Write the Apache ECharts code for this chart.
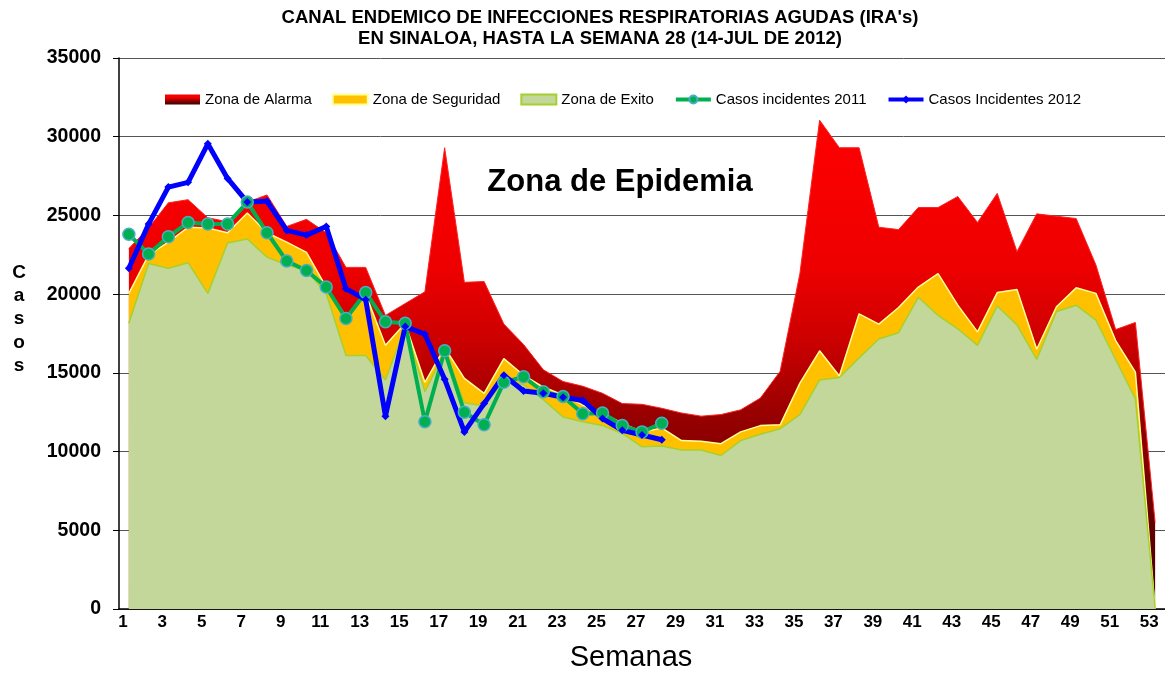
<!DOCTYPE html>
<html lang="es">
<head>
<meta charset="UTF-8">
<title>Canal endemico IRA's Sinaloa 2012</title>
<script src="https://cdn.jsdelivr.net/npm/echarts@6/dist/echarts.min.js"></script>
<style>
    html, body { margin: 0; padding: 0; background: #fff; }
    #main { width: 1165px; height: 673px; }
</style>
</head>
<body>
<div id="main"></div>
<script type="text/javascript">
    // semanas epidemiologicas (categorias del eje x)
    var semanas = ['1','2','3','4','5','6','7','8','9','10','11','12','13','14','15','16','17','18','19','20',
        '21','22','23','24','25','26','27','28','29','30','31','32','33','34','35','36','37','38','39','40',
        '41','42','43','44','45','46','47','48','49','50','51','52','53'];

    // limite superior de cada zona del canal endemico
    var zonaAlarma = [22900, 24200, 25800, 26000, 24850, 24600, 25850, 26300, 24300, 24750,
        23900, 21700, 21700, 18650, 19400, 20150, 29300, 20750, 20800, 18100,
        16800, 15200, 14450, 14150, 13700, 13050, 13000, 12750, 12450, 12250,
        12350, 12650, 13400, 15100, 21300, 31050, 29300, 29300, 24250, 24100,
        25500, 25500, 26200, 24550, 26400, 22700, 25100, 24950, 24800, 21850,
        17750, 18200, 5500];
    var zonaSeguridad = [20050, 22500, 23300, 24250, 24200, 23900, 25150, 23900, 23300, 22650,
        20450, 18600, 20000, 16750, 18150, 14400, 16600, 14650, 13700, 15900,
        14850, 14100, 13600, 12950, 12450, 11800, 11250, 11500, 10700, 10650,
        10500, 11250, 11650, 11700, 14350, 16400, 14800, 18750, 18100, 19150,
        20450, 21300, 19300, 17600, 20100, 20300, 16500, 19200, 20400, 20050,
        17050, 15050, 0];
    var zonaExito = [18150, 21950, 21650, 22000, 20050, 23250, 23500, 22350, 21850, 21500,
        20050, 16100, 16100, 14550, 17900, 13800, 16300, 13100, 12900, 14500,
        14250, 13300, 12200, 11900, 11650, 11150, 10300, 10350, 10100, 10100,
        9750, 10700, 11100, 11450, 12350, 14550, 14700, 15950, 17150, 17550,
        19800, 18650, 17800, 16750, 19250, 18050, 15850, 18900, 19300, 18350,
        15850, 13350, 0];

    // casos incidentes
    var casos2011 = [23800, 22550, 23650, 24550, 24450, 24450, 25850, 23900, 22100, 21500,
        20450, 18450, 20100, 18250, 18150, 11900, 16400, 12500, 11700, 14400,
        14750, 13800, 13500, 12400, 12450, 11650, 11250, 11800];
    var casos2012 = [21650, 24450, 26800, 27100, 29550, 27350, 25850, 25900, 24050, 23750,
        24300, 20350, 19650, 12250, 17950, 17450, 14600, 11250, 13050, 14850,
        13850, 13700, 13450, 13250, 12100, 11350, 11050, 10750];

    var fuente = '"Liberation Sans", Arial, sans-serif';

    var rojo = new echarts.graphic.LinearGradient(0, 0, 0, 1, [
        {offset: 0, color: '#FF0000'},
        {offset: 0.3, color: '#EE0000'},
        {offset: 0.45, color: '#CC0000'},
        {offset: 0.6, color: '#990000'},
        {offset: 0.8, color: '#6A0000'},
        {offset: 1, color: '#400000'}
    ]);

    var myChart = echarts.init(document.getElementById('main'));

    var option = {
        animation: false,
        backgroundColor: '#fff',
        textStyle: { fontFamily: fuente },
        grid: { left: 119, top: 58, width: 1055, height: 551 },
        legend: {
            left: 160,
            top: 87,
            itemWidth: 35,
            itemHeight: 10,
            itemGap: 20,
            textStyle: { fontSize: 15, color: '#000', fontFamily: fuente },
            data: [
                {name: 'Zona de Alarma', icon: 'rect'},
                {name: 'Zona de Seguridad', icon: 'rect'},
                {name: 'Zona de Exito', icon: 'rect'},
                {name: 'Casos incidentes 2011', lineStyle: { width: 4 }},
                {name: 'Casos Incidentes 2012', lineStyle: { width: 4 }}
            ]
        },
        xAxis: {
            type: 'category',
            data: semanas,
            boundaryGap: true,
            axisLine: { lineStyle: { color: '#000', width: 1.5 } },
            axisTick: { interval: 0, length: 5, lineStyle: { color: '#000' } },
            axisLabel: {
                interval: 1,
                margin: 5,
                padding: [0, 12, 0, 0],
                color: '#000',
                fontSize: 17,
                fontWeight: 'bold',
                fontFamily: fuente
            },
            splitLine: { show: false }
        },
        yAxis: {
            type: 'value',
            min: 0,
            max: 35000,
            interval: 5000,
            axisLine: { show: true, lineStyle: { color: '#000', width: 1.5 } },
            axisTick: { show: true, length: 6, lineStyle: { color: '#000' } },
            axisLabel: {
                margin: 18,
                color: '#000',
                fontSize: 19.5,
                fontWeight: 'bold',
                fontFamily: fuente,
                formatter: function (v) { return String(v); }
            },
            splitLine: { lineStyle: { color: '#555', width: 1 } }
        },
        graphic: [
            {
                type: 'text', x: 600, y: 18,
                style: { text: "CANAL ENDEMICO DE INFECCIONES RESPIRATORIAS AGUDAS (IRA's)", align: 'center', verticalAlign: 'middle',
                    font: 'bold 18.5px ' + fuente, fill: '#000' }
            },
            {
                type: 'text', x: 600, y: 39,
                style: { text: 'EN SINALOA, HASTA LA SEMANA 28 (14-JUL DE 2012)', align: 'center', verticalAlign: 'middle',
                    font: 'bold 18.5px ' + fuente, fill: '#000' }
            },
            {
                type: 'text', x: 620, y: 182, z: 100,
                style: { text: 'Zona de Epidemia', align: 'center', verticalAlign: 'middle',
                    font: 'bold 31px ' + fuente, fill: '#000' }
            },
            {
                type: 'text', x: 19, y: 261,
                style: { text: 'C\na\ns\no\ns', align: 'center', verticalAlign: 'top', lineHeight: 23.3,
                    font: 'bold 19px ' + fuente, fill: '#000' }
            },
            {
                type: 'text', x: 631, y: 658,
                style: { text: 'Semanas', align: 'center', verticalAlign: 'middle',
                    font: '29px ' + fuente, fill: '#000' }
            }
        ],
        series: [
            {
                name: 'Zona de Alarma',
                type: 'line',
                data: zonaAlarma,
                symbol: 'none',
                lineStyle: { color: '#FF2020', width: 1 },
                itemStyle: { color: rojo },
                areaStyle: { color: rojo, opacity: 1 }
            },
            {
                name: 'Zona de Seguridad',
                type: 'line',
                data: zonaSeguridad,
                symbol: 'none',
                lineStyle: { color: '#FFFF99', width: 1.5 },
                itemStyle: { color: '#FFC000', borderColor: '#FFFF99', borderWidth: 1 },
                areaStyle: { color: '#FFC000', opacity: 1 }
            },
            {
                name: 'Zona de Exito',
                type: 'line',
                data: zonaExito,
                symbol: 'none',
                lineStyle: { color: '#A6D02E', width: 1.5 },
                itemStyle: { color: '#C4D79B', borderColor: '#A6D02E', borderWidth: 1.5 },
                areaStyle: { color: '#C4D79B', opacity: 1 }
            },
            {
                name: 'Casos incidentes 2011',
                type: 'line',
                data: casos2011,
                symbol: 'circle',
                symbolSize: 12,
                lineStyle: { color: '#00B050', width: 4 },
                itemStyle: { color: '#00B050', borderColor: '#4BACC6', borderWidth: 1.5 }
            },
            {
                name: 'Casos Incidentes 2012',
                type: 'line',
                data: casos2012,
                symbol: 'diamond',
                symbolSize: 8,
                lineStyle: { color: '#0000FF', width: 5 },
                itemStyle: { color: '#0000FF' }
            }
        ]
    };

    myChart.setOption(option);
</script>
</body>
</html>
